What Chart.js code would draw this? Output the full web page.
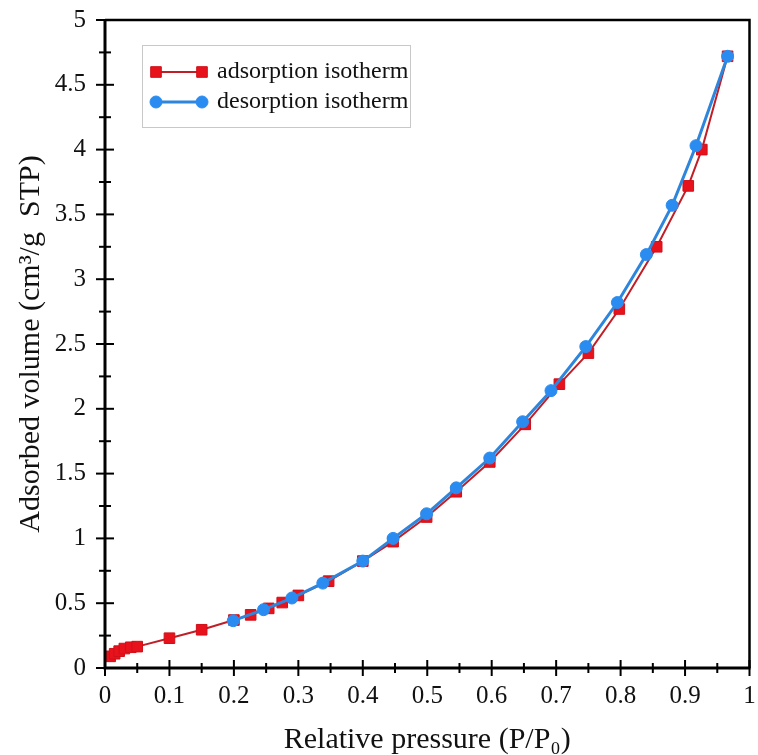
<!DOCTYPE html>
<html>
<head>
<meta charset="utf-8">
<script src="https://cdn.jsdelivr.net/npm/chart.js@4.4.0/dist/chart.umd.min.js"></script>
<style>
  html, body { margin: 0; padding: 0; background: #fff; }
  #wrap { width: 758px; height: 755px; }
</style>
</head>
<body>
<div id="wrap"><canvas id="c" width="758" height="755"></canvas></div>
<script>
// ---- data ----
const adsorptionX = [0.008, 0.015, 0.022, 0.03, 0.04, 0.05, 0.10, 0.15, 0.20, 0.226, 0.254, 0.275, 0.30, 0.347, 0.40, 0.447, 0.499, 0.545, 0.597, 0.652, 0.705, 0.75, 0.798, 0.856, 0.905, 0.926, 0.966];
const adsorptionY = [0.09, 0.11, 0.13, 0.15, 0.16, 0.165, 0.23, 0.295, 0.37, 0.41, 0.46, 0.505, 0.56, 0.67, 0.825, 0.975, 1.165, 1.36, 1.59, 1.88, 2.19, 2.43, 2.77, 3.25, 3.72, 4.0, 4.72];
const desorptionX = [0.966, 0.917, 0.88, 0.84, 0.795, 0.746, 0.692, 0.648, 0.597, 0.545, 0.499, 0.447, 0.40, 0.338, 0.29, 0.246, 0.199];
const desorptionY = [4.72, 4.03, 3.57, 3.19, 2.82, 2.48, 2.14, 1.90, 1.62, 1.39, 1.19, 1.0, 0.825, 0.655, 0.54, 0.45, 0.365];
const seriesLabels = ['adsorption isotherm', 'desorption isotherm'];
const xTickValues = [0, 0.1, 0.2, 0.3, 0.4, 0.5, 0.6, 0.7, 0.8, 0.9, 1];
const yTickValues = [0, 0.5, 1, 1.5, 2, 2.5, 3, 3.5, 4, 4.5, 5];
const xTitle = 'Relative pressure (P/P\u2080)';
const yTitle = 'Adsorbed volume (cm\u00B3/g  STP)';

const toPoints = (xs, ys) => xs.map((x, i) => ({ x: x, y: ys[i] }));

const FONT = '"Liberation Serif", "Times New Roman", serif';
const origDrawPoint = Chart.helpers.drawPoint;

const frameTicksLegend = {
  id: 'frameTicksLegend',
  afterDraw(chart) {
    const { ctx, chartArea: a, scales: { x, y } } = chart;
    ctx.save();
    ctx.strokeStyle = '#000';
    ctx.lineCap = 'butt';
    // frame
    ctx.lineWidth = 2.5;
    ctx.beginPath();
    ctx.moveTo(a.left, a.top); ctx.lineTo(a.right, a.top); ctx.lineTo(a.right, a.bottom);
    ctx.stroke();
    ctx.lineWidth = 3;
    ctx.beginPath();
    ctx.moveTo(a.left, a.top - 1); ctx.lineTo(a.left, a.bottom); ctx.lineTo(a.right + 1, a.bottom);
    ctx.stroke();
    // crossing ticks
    ctx.lineWidth = 2;
    for (let i = 0; i <= 20; i++) {
      const px = x.getPixelForValue(i * 0.05);
      const len = (i % 2 === 0) ? 8 : 5;
      ctx.beginPath(); ctx.moveTo(px, a.bottom - len); ctx.lineTo(px, a.bottom + len); ctx.stroke();
    }
    for (let i = 0; i <= 20; i++) {
      const py = y.getPixelForValue(i * 0.25);
      const len = (i % 2 === 0) ? 9 : 6;
      ctx.beginPath(); ctx.moveTo(a.left - len, py); ctx.lineTo(a.left + len, py); ctx.stroke();
    }
    // legend
    const lx = 142, ly = 45, lw = 268, lh = 82;
    ctx.lineWidth = 1;
    ctx.strokeStyle = '#c8c8c8';
    ctx.strokeRect(lx + 0.5, ly + 0.5, lw, lh);
    const rows = [72, 102];
    chart.data.datasets.forEach((ds, i) => {
      const ry = rows[i];
      ctx.strokeStyle = ds.borderColor;
      ctx.lineWidth = ds.borderWidth;
      ctx.beginPath(); ctx.moveTo(156, ry); ctx.lineTo(202, ry); ctx.stroke();
      [156, 202].forEach(mx => {
        ctx.save();
        ctx.fillStyle = ds.pointBackgroundColor;
        ctx.strokeStyle = ds.pointBorderColor;
        ctx.lineWidth = 1;
        origDrawPoint(ctx, { pointStyle: ds.pointStyle, radius: ds.pointRadius, borderWidth: 1, rotation: 0 }, mx, ry);
        ctx.restore();
      });
      ctx.fillStyle = '#111';
      ctx.font = '24px ' + FONT;
      ctx.textBaseline = 'middle';
      ctx.textAlign = 'left';
      ctx.fillText(ds.label, 217, ry);
    });
    ctx.restore();
  }
};

new Chart(document.getElementById('c'), {
  type: 'line',
  data: {
    datasets: [
      {
        label: seriesLabels[0],
        data: toPoints(adsorptionX, adsorptionY),
        borderColor: '#c01f28',
        backgroundColor: '#e8121c',
        borderWidth: 2,
        pointStyle: 'rect',
        pointRadius: 7.5,
        pointBorderColor: '#d01018',
        pointBorderWidth: 1,
        pointBackgroundColor: '#e8121c',
        tension: 0,
        order: 2
      },
      {
        label: seriesLabels[1],
        data: toPoints(desorptionX, desorptionY),
        borderColor: '#2d86dc',
        backgroundColor: '#2a8cf0',
        borderWidth: 3,
        pointStyle: 'circle',
        pointRadius: 6,
        pointBorderColor: '#2a8cf0',
        pointBorderWidth: 1,
        pointBackgroundColor: '#2a8cf0',
        tension: 0,
        order: 1
      }
    ]
  },
  options: {
    responsive: false,
    animation: false,
    layout: { padding: { left: 0, right: 7, top: 20, bottom: 0 } },
    plugins: { legend: { display: false }, tooltip: { enabled: false } },
    scales: {
      x: {
        type: 'linear',
        min: 0, max: 1,
        afterBuildTicks: s => { s.ticks = xTickValues.map(v => ({ value: v })); },
        afterFit: s => { s.height = 87; s.paddingLeft = 0; s.paddingRight = 0; },
        grid: { display: false, drawTicks: false },
        border: { display: false },
        ticks: {
          padding: 13,
          color: '#111',
          font: { family: FONT, size: 25 },
          maxRotation: 0,
          callback: v => String(v)
        },
        title: {
          display: true, text: xTitle, color: '#111',
          font: { family: FONT, size: 30, lineHeight: 1 },
          padding: { top: 0, bottom: 0 }
        }
      },
      y: {
        type: 'linear',
        min: 0, max: 5,
        afterBuildTicks: s => { s.ticks = yTickValues.map(v => ({ value: v })); },
        afterFit: s => { s.width = 105; s.paddingTop = 0; s.paddingBottom = 0; },
        grid: { display: false, drawTicks: false },
        border: { display: false },
        ticks: {
          padding: 19,
          color: '#111',
          font: { family: FONT, size: 25 },
          callback: v => String(v)
        },
        title: {
          display: true, text: yTitle, color: '#111',
          font: { family: FONT, size: 30, lineHeight: 1 },
          padding: { top: 16, bottom: 0 }
        }
      }
    }
  },
  plugins: [frameTicksLegend]
});
</script>
</body>
</html>
